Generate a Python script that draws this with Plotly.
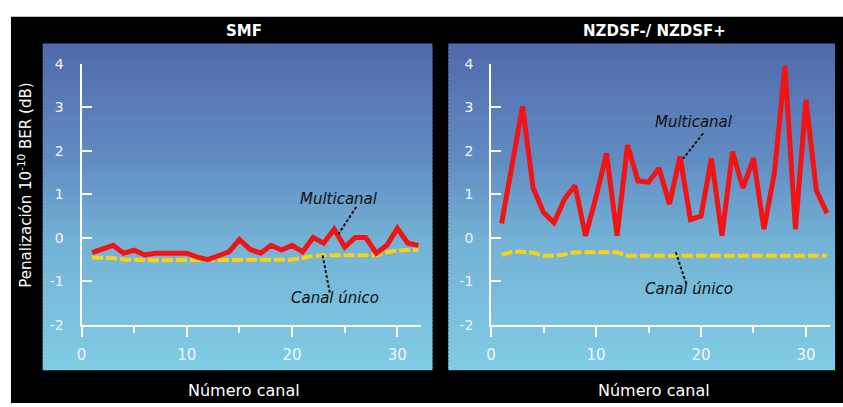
import plotly.graph_objects as go

W, H = 843, 407

# ---- data -------------------------------------------------------------
channels = list(range(1, 33))

smf_multicanal = [-0.34, -0.24, -0.17, -0.35, -0.28, -0.39, -0.35, -0.35, -0.35, -0.35,
                  -0.44, -0.50, -0.41, -0.32, -0.04, -0.26, -0.35, -0.17, -0.28, -0.17,
                  -0.32, 0.01, -0.12, 0.20, -0.21, 0.01, 0.01, -0.35, -0.17, 0.22,
                  -0.12, -0.17]
smf_unico = [-0.45, -0.45, -0.46, -0.50, -0.51, -0.51, -0.51, -0.51, -0.51, -0.51,
             -0.51, -0.51, -0.51, -0.51, -0.51, -0.51, -0.51, -0.51, -0.51, -0.50,
             -0.46, -0.41, -0.40, -0.40, -0.40, -0.40, -0.40, -0.40, -0.33, -0.29,
             -0.28, -0.28]

nz_multicanal = [0.33, 1.75, 3.02, 1.15, 0.58, 0.35, 0.90, 1.20, 0.05, 0.94,
                 1.94, 0.05, 2.13, 1.31, 1.28, 1.60, 0.78, 1.87, 0.42, 0.50,
                 1.83, 0.05, 1.98, 1.15, 1.83, 0.20, 1.50, 3.95, 0.20, 3.17,
                 1.09, 0.57]
nz_unico = [-0.39, -0.32, -0.32, -0.34, -0.41, -0.41, -0.38, -0.33, -0.33, -0.33,
            -0.33, -0.33, -0.41, -0.41, -0.41, -0.41, -0.41, -0.41, -0.41, -0.41,
            -0.41, -0.41, -0.41, -0.41, -0.41, -0.41, -0.41, -0.41, -0.41, -0.41,
            -0.41, -0.41]

panel_titles = ["SMF", "NZDSF-/ NZDSF+"]
y_ticks = [4, 3, 2, 1, 0, -1, -2]
y_tick_text = ["4", "3", "2", "1", "0", "-1", "-2"]
x_ticks = [0, 10, 20, 30]

# ---- helpers (pixels -> paper fractions) ---------------------------------
def px(x):
    return x / W


def py(y):
    return 1 - y / H


def lerp_color(stops, t):
    for (t0, c0), (t1, c1) in zip(stops, stops[1:]):
        if t0 <= t <= t1:
            f = (t - t0) / (t1 - t0) if t1 > t0 else 0
            c = [round(a + (b - a) * f) for a, b in zip(c0, c1)]
            return f"rgb({c[0]},{c[1]},{c[2]})"
    c = stops[-1][1]
    return f"rgb({c[0]},{c[1]},{c[2]})"


grad_stops = [(0.0, (80, 106, 172)), (0.35, (97, 140, 194)),
              (0.6, (116, 178, 214)), (1.0, (128, 204, 228))]

RED = "#f01414"
YELLOW = "#f7d21a"
WHITE = "#f2f6fb"
FONT = "DejaVu Sans"

fig = go.Figure()

# ---- traces -----------------------------------------------------------
panels = [
    ("x", "y", smf_unico, smf_multicanal),
    ("x2", "y2", nz_unico, nz_multicanal),
]
for xa, ya, unico, multi in panels:
    fig.add_trace(go.Scatter(x=channels, y=unico, xaxis=xa, yaxis=ya, mode="lines",
                             line=dict(color=YELLOW, width=4, dash="11px,3px"),
                             showlegend=False, hoverinfo="skip"))
    fig.add_trace(go.Scatter(x=channels, y=multi, xaxis=xa, yaxis=ya, mode="lines",
                             line=dict(color=RED, width=5),
                             showlegend=False, hoverinfo="skip"))

# ---- backgrounds ------------------------------------------------------
shapes = [dict(type="rect", xref="paper", yref="paper", x0=px(6), x1=1.01, y0=-0.01,
               y1=py(9), fillcolor="black", line_width=0, layer="below")]
panel_boxes = [(38, 430), (446, 835)]
top, bot = 37, 377
step = 4
for x0, x1 in panel_boxes:
    for yy in range(top, bot, step):
        t = (yy - top) / (bot - top)
        # each band overlaps the next one so no seams show between them
        shapes.append(dict(type="rect", xref="paper", yref="paper",
                           x0=px(x0), x1=px(x1), y0=py(min(yy + step + 2, bot)),
                           y1=py(yy), fillcolor=lerp_color(grad_stops, t), line_width=0,
                           layer="below"))

# pointer lines for the labels
pointers = [
    ("x", "y", 26.1, 0.71, 24.4, 0.09),
    ("x", "y", 22.9, -0.40, 23.6, -1.28),
    ("x2", "y2", 20.2, 2.40, 18.3, 1.82),
    ("x2", "y2", 17.6, -0.33, 18.6, -1.06),
]
for xa, ya, xa0, ya0, xa1, ya1 in pointers:
    shapes.append(dict(type="line", xref=xa, yref=ya, x0=xa0, y0=ya0, x1=xa1, y1=ya1,
                       line=dict(color="#111111", width=2, dash="3px,2px"),
                       layer="above"))

# ---- text -------------------------------------------------------------
annotations = []
for title, cx in zip(panel_titles, [240, 653]):
    annotations.append(dict(text=f"<b>{title}</b>", x=px(cx), y=py(24), xref="paper",
                            yref="paper", xanchor="center", yanchor="middle",
                            showarrow=False, font=dict(family=FONT, size=15, color="white")))
for cx in [240, 653]:
    annotations.append(dict(text="Número canal", x=px(cx), y=py(398), xref="paper",
                            yref="paper", xanchor="center", yanchor="middle",
                            showarrow=False, font=dict(family=FONT, size=16, color="white")))
annotations.append(dict(text="Penalización 10<sup>-10</sup> BER (dB)", x=px(20), y=py(184),
                        xref="paper", yref="paper", xanchor="center", yanchor="middle",
                        showarrow=False, textangle=-90,
                        font=dict(family=FONT, size=15, color="white")))

labels = [
    ("x", "y", 24.5, 0.90, "Multicanal"),
    ("x", "y", 24.1, -1.39, "Canal único"),
    ("x2", "y2", 19.3, 2.67, "Multicanal"),
    ("x2", "y2", 18.9, -1.17, "Canal único"),
]
for xa, ya, lx, ly, txt in labels:
    annotations.append(dict(text=f"<i>{txt}</i>", x=lx, y=ly, xref=xa, yref=ya,
                            showarrow=False, font=dict(family=FONT, size=15,
                                                       color="#111111")))

# ---- axes -------------------------------------------------------------
def xaxis(domain, rng, anchor):
    return dict(domain=domain, range=rng, anchor=anchor, showgrid=False, zeroline=False,
                showline=True, linecolor="white", linewidth=2,
                tickvals=x_ticks, ticks="outside", ticklen=10, tickwidth=2,
                tickcolor="white", ticklabelstandoff=5,
                minor=dict(tickvals=[5, 15, 25], ticks="outside", ticklen=6,
                           tickwidth=2, tickcolor="white"),
                tickfont=dict(family=FONT, size=15, color=WHITE),
                fixedrange=True)


def yaxis(anchor):
    return dict(domain=[py(330), py(58)], range=[-2, 4], anchor=anchor,
                showgrid=False, zeroline=False, showline=True, linecolor="white",
                linewidth=2, tickvals=y_ticks, ticktext=y_tick_text, ticks="inside",
                ticklen=10, tickwidth=2, tickcolor="white", ticklabelstandoff=13,
                tickfont=dict(family=FONT, size=14, color=WHITE),
                fixedrange=True)


fig.update_layout(
    width=W, height=H, margin=dict(l=0, r=0, t=0, b=0),
    paper_bgcolor="white", plot_bgcolor="rgba(0,0,0,0)",
    xaxis=xaxis([px(77), px(418)], [0, 32.2], "y"), yaxis=yaxis("x"),
    xaxis2=xaxis([px(489), px(830)], [0, 32.3], "y2"), yaxis2=yaxis("x2"),
    shapes=shapes, annotations=annotations, showlegend=False,
)

fig.write_html("out.html")
